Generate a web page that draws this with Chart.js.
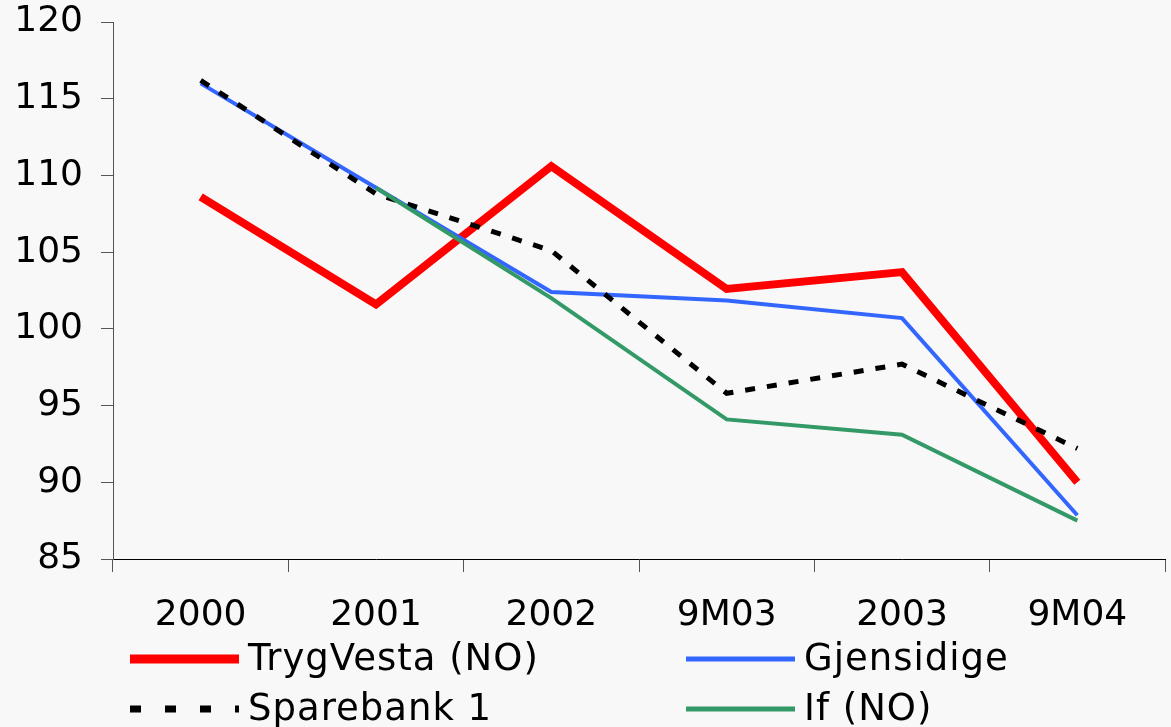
<!DOCTYPE html>
<html>
<head>
<meta charset="utf-8">
<script src="https://cdn.jsdelivr.net/npm/chart.js@4/dist/chart.umd.min.js"></script>
<style>
    html, body { margin: 0; padding: 0; background: #f8f8f8; }
    #wrap { width: 1171px; height: 727px; }
</style>
</head>
<body>
<div id="wrap"><canvas id="chart"></canvas></div>
<script>
const labels = ['2000', '2001', '2002', '9M03', '2003', '9M04'];
const yTicks = [85, 90, 95, 100, 105, 110, 115, 120];

const trygVesta = [108.6, 101.6, 110.6, 102.6, 103.7, 90.0];
const gjensidige = [116.0, 109.2, 102.4, 101.85, 100.7, 87.85];
const sparebank = [116.2, 108.8, 105.1, 95.8, 97.7, 92.2];
const ifNo = [null, 109.2, 102.0, 94.1, 93.1, 87.5];

const font = 'DejaVu Sans';

// legend drawn in two columns like the original
const legendPlugin = {
    id: 'colLegend',
    afterDraw(chart) {
        const ctx = chart.ctx;
        const cols = [130, 686];
        const rows = [659, 709];
        chart.data.datasets.forEach((ds, i) => {
            const x = cols[i % 2];
            const y = rows[Math.floor(i / 2)];
            ctx.save();
            ctx.strokeStyle = ds.borderColor;
            ctx.lineWidth = ds.legendWidth;
            ctx.setLineDash(ds.legendDash || []);
            ctx.beginPath();
            ctx.moveTo(x, y);
            ctx.lineTo(x + 109, y);
            ctx.stroke();
            ctx.setLineDash([]);
            ctx.fillStyle = '#000';
            ctx.font = '37px "' + font + '"';
            ctx.letterSpacing = '1px';
            ctx.textBaseline = 'middle';
            ctx.fillText(ds.label, x + 118, y + 1);
            ctx.restore();
        });
    }
};

const chart = document.querySelector('#chart').getContext('2d');

new Chart(chart, {
    type: 'line',
    data: {
        labels: labels,
        datasets: [
            {
                label: 'TrygVesta (NO)',
                data: trygVesta,
                borderColor: '#ff0000',
                borderWidth: 8,
                legendWidth: 9,
                order: 4,
            },
            {
                label: 'Gjensidige',
                data: gjensidige,
                borderColor: '#3366ff',
                borderWidth: 4,
                legendWidth: 5,
                order: 3,
            },
            {
                label: 'Sparebank 1',
                data: sparebank,
                borderColor: '#000000',
                borderWidth: 5,
                borderDash: [10, 12],
                legendDash: [11, 24],
                legendWidth: 7,
                order: 2,
            },
            {
                label: 'If (NO)',
                data: ifNo,
                borderColor: '#339966',
                borderWidth: 4,
                legendWidth: 5,
                order: 1,
            }
        ]
    },
    options: {
        responsive: true,
        maintainAspectRatio: false,
        animation: false,
        layout: { padding: { top: 22, right: 6, left: 0, bottom: 0 } },
        elements: {
            point: { radius: 0, hoverRadius: 0 },
            line: { tension: 0, borderJoinStyle: 'miter', borderCapStyle: 'butt', fill: false }
        },
        plugins: {
            legend: { display: false },
            tooltip: { enabled: false }
        },
        scales: {
            x: {
                offset: true,
                grid: { offset: true, drawOnChartArea: false, tickLength: 13, color: '#555', tickWidth: 1 },
                border: { color: '#000', width: 1 },
                ticks: {
                    color: '#000',
                    padding: 22,
                    maxRotation: 0,
                    font: { family: font, size: 36 }
                },
                afterFit(scale) { scale.height = 168; }
            },
            y: {
                min: 85,
                max: 120,
                afterBuildTicks(scale) { scale.ticks = yTicks.map(v => ({ value: v })); },
                grid: { drawOnChartArea: false, tickLength: 12, color: '#555', tickWidth: 1 },
                border: { color: '#555', width: 1 },
                ticks: {
                    color: '#000',
                    padding: 18,
                    font: { family: font, size: 36 }
                },
                afterFit(scale) {
                    scale.width = 113;
                    scale.paddingTop = 0;
                    scale.paddingBottom = 0;
                }
            }
        }
    },
    plugins: [legendPlugin]
})
</script>
</body>
</html>
